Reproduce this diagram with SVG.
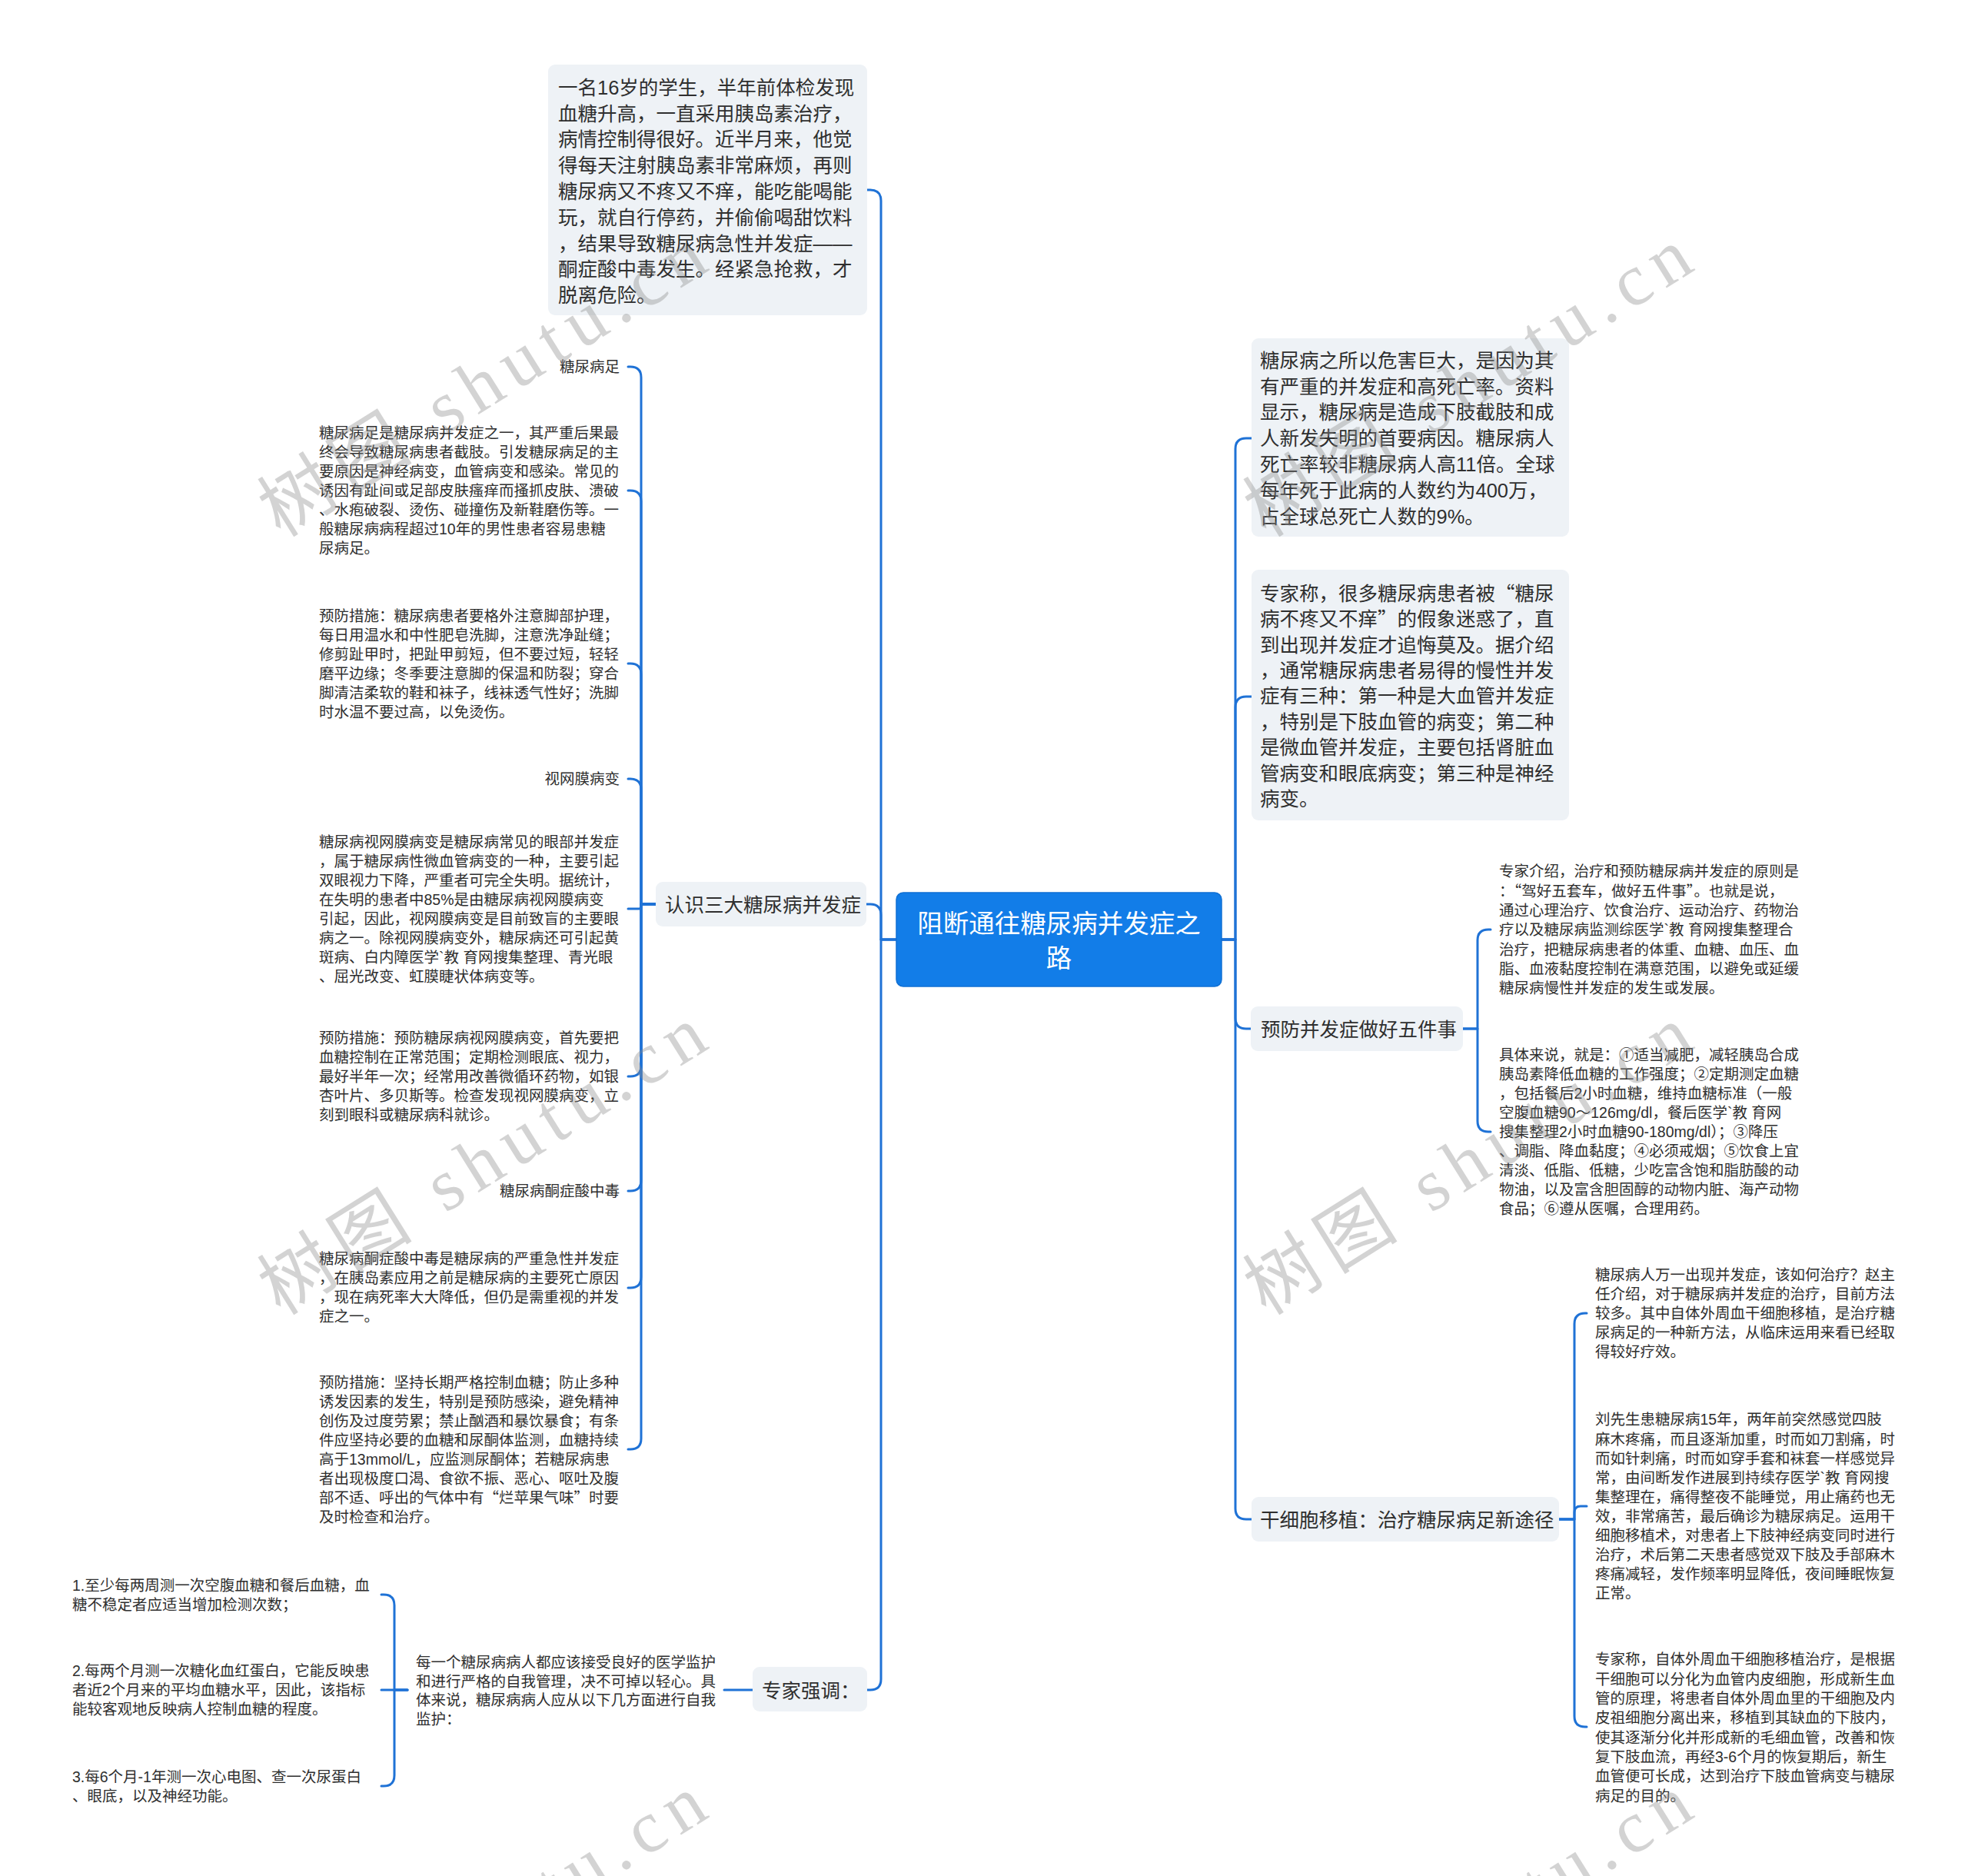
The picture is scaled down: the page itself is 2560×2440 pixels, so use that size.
<svg xmlns="http://www.w3.org/2000/svg" width="2560" height="2440" viewBox="0 0 2560 2440">
<style>
text { font-family: "Liberation Sans", "Noto Sans CJK SC", sans-serif; fill: #2f2f2f; }
.s { font-size: 19.5px; }
.m { font-size: 25.5px; }
.c { font-size: 33.5px; fill: #ffffff; }
.q { font-family: "Noto Sans CJK SC", sans-serif; }
.ln { fill: none; stroke: #1f72d6; stroke-width: 3; stroke-linecap: round; stroke-linejoin: round; }
.nb { fill: #eef2f6; }
.wm { font-family: "Liberation Serif", "Noto Sans CJK SC", serif; font-size: 96px; fill: #8c8c8c; fill-opacity: 0.38; }
</style>
<rect x="0" y="0" width="2560" height="2440" fill="#ffffff"/>

<g id="connectors">
  <path class="ln" d="M1166,1222 H1146 V261 Q1146,247 1132,247 H1128"/>
  <path class="ln" d="M1166,1222 H1146 V1190 Q1146,1176 1132,1176 H1127"/>
  <path class="ln" d="M1166,1222 H1146 V2184 Q1146,2198 1132,2198 H1128"/>
  <path class="ln" d="M1589,1222 H1607 V584 Q1607,570 1621,570 H1628"/>
  <path class="ln" d="M1589,1222 H1607 V920 Q1607,906 1621,906 H1628"/>
  <path class="ln" d="M1589,1222 H1607 V1324 Q1607,1338 1621,1338 H1627"/>
  <path class="ln" d="M1589,1222 H1607 V1962 Q1607,1976 1621,1976 H1628"/>
  <path class="ln" d="M853,1176 H834 V491 Q834,477 820,477 H817"/>
  <path class="ln" d="M853,1176 H834 V652 Q834,638 820,638 H817"/>
  <path class="ln" d="M853,1176 H834 V877 Q834,863 820,863 H817"/>
  <path class="ln" d="M853,1176 H834 V1027 Q834,1013 820,1013 H817"/>
  <path class="ln" d="M853,1176 H834 V1179 Q834,1182 831,1182 H817"/>
  <path class="ln" d="M853,1176 H834 V1386 Q834,1400 820,1400 H817"/>
  <path class="ln" d="M853,1176 H834 V1535 Q834,1549 820,1549 H817"/>
  <path class="ln" d="M853,1176 H834 V1661 Q834,1675 820,1675 H817"/>
  <path class="ln" d="M853,1176 H834 V1871 Q834,1885 820,1885 H817"/>
  <path class="ln" d="M979,2198 H942"/>
  <path class="ln" d="M530,2198 H513 V2088 Q513,2074 499,2074 H496"/>
  <path class="ln" d="M530,2198 H496"/>
  <path class="ln" d="M530,2198 H513 V2309 Q513,2323 499,2323 H496"/>
  <path class="ln" d="M1903,1338 H1922 V1223 Q1922,1209 1936,1209 H1939"/>
  <path class="ln" d="M1903,1338 H1922 V1458 Q1922,1472 1936,1472 H1939"/>
  <path class="ln" d="M2028,1976 H2048 V1722 Q2048,1708 2062,1708 H2064"/>
  <path class="ln" d="M2028,1976 H2048 V1967 Q2048,1959 2056,1959 H2064"/>
  <path class="ln" d="M2028,1976 H2048 V2232 Q2048,2246 2062,2246 H2064"/>
</g>

<g id="root">
  <rect x="1166" y="1161" width="423" height="122" rx="9" fill="#127de8" stroke="#0f6fd3" stroke-width="1.5"/>
  <text class="c" text-anchor="middle"><tspan x="1377.5" y="1213">阻断通往糖尿病并发症之</tspan><tspan x="1377.5" y="1258">路</tspan></text>
</g>

<g id="case">
  <rect class="nb" x="713" y="84" width="415" height="326" rx="9"/>
  <text class="m">
    <tspan x="726" y="122.7">一名16岁的学生，半年前体检发现</tspan>
    <tspan x="726" y="156.5">血糖升高，一直采用胰岛素治疗，</tspan>
    <tspan x="726" y="190.3">病情控制得很好。近半月来，他觉</tspan>
    <tspan x="726" y="224.1">得每天注射胰岛素非常麻烦，再则</tspan>
    <tspan x="726" y="257.9">糖尿病又不疼又不痒，能吃能喝能</tspan>
    <tspan x="726" y="291.7">玩，就自行停药，并偷偷喝甜饮料</tspan>
    <tspan x="726" y="325.5">，结果导致糖尿病急性并发症——</tspan>
    <tspan x="726" y="359.3">酮症酸中毒发生。经紧急抢救，才</tspan>
    <tspan x="726" y="393.1">脱离危险。</tspan>
  </text>
</g>

<g id="know">
  <rect class="nb" x="853" y="1147" width="274" height="58" rx="9"/>
  <text class="m" x="865" y="1186">认识三大糖尿病并发症</text>
</g>

<g id="foot-title"><text class="s" x="806" y="484.4" text-anchor="end">糖尿病足</text></g>
<g id="foot-desc">
  <text class="s">
    <tspan x="415" y="570.4">糖尿病足是糖尿病并发症之一，其严重后果最</tspan>
    <tspan x="415" y="595.4">终会导致糖尿病患者截肢。引发糖尿病足的主</tspan>
    <tspan x="415" y="620.4">要原因是神经病变，血管病变和感染。常见的</tspan>
    <tspan x="415" y="645.4">诱因有趾间或足部皮肤瘙痒而搔抓皮肤、溃破</tspan>
    <tspan x="415" y="670.4">、水疱破裂、烫伤、碰撞伤及新鞋磨伤等。一</tspan>
    <tspan x="415" y="695.4">般糖尿病病程超过10年的男性患者容易患糖</tspan>
    <tspan x="415" y="720.4">尿病足。</tspan>
  </text>
</g>
<g id="foot-prev">
  <text class="s">
    <tspan x="415" y="808.4">预防措施：糖尿病患者要格外注意脚部护理，</tspan>
    <tspan x="415" y="833.4">每日用温水和中性肥皂洗脚，注意洗净趾缝；</tspan>
    <tspan x="415" y="858.4">修剪趾甲时，把趾甲剪短，但不要过短，轻轻</tspan>
    <tspan x="415" y="883.4">磨平边缘；冬季要注意脚的保温和防裂；穿合</tspan>
    <tspan x="415" y="908.4">脚清洁柔软的鞋和袜子，线袜透气性好；洗脚</tspan>
    <tspan x="415" y="933.4">时水温不要过高，以免烫伤。</tspan>
  </text>
</g>

<g id="retina-title"><text class="s" x="806" y="1020.4" text-anchor="end">视网膜病变</text></g>
<g id="retina-desc">
  <text class="s">
    <tspan x="415" y="1102.4">糖尿病视网膜病变是糖尿病常见的眼部并发症</tspan>
    <tspan x="415" y="1127.4">，属于糖尿病性微血管病变的一种，主要引起</tspan>
    <tspan x="415" y="1152.4">双眼视力下降，严重者可完全失明。据统计，</tspan>
    <tspan x="415" y="1177.4">在失明的患者中85%是由糖尿病视网膜病变</tspan>
    <tspan x="415" y="1202.4">引起，因此，视网膜病变是目前致盲的主要眼</tspan>
    <tspan x="415" y="1227.4">病之一。除视网膜病变外，糖尿病还可引起黄</tspan>
    <tspan x="415" y="1252.4">斑病、白内障医学`教 育网搜集整理、青光眼</tspan>
    <tspan x="415" y="1277.4">、屈光改变、虹膜睫状体病变等。</tspan>
  </text>
</g>
<g id="retina-prev">
  <text class="s">
    <tspan x="415" y="1357.4">预防措施：预防糖尿病视网膜病变，首先要把</tspan>
    <tspan x="415" y="1382.4">血糖控制在正常范围；定期检测眼底、视力，</tspan>
    <tspan x="415" y="1407.4">最好半年一次；经常用改善微循环药物，如银</tspan>
    <tspan x="415" y="1432.4">杏叶片、多贝斯等。检查发现视网膜病变，立</tspan>
    <tspan x="415" y="1457.4">刻到眼科或糖尿病科就诊。</tspan>
  </text>
</g>

<g id="dka-title"><text class="s" x="806" y="1556.4" text-anchor="end">糖尿病酮症酸中毒</text></g>
<g id="dka-desc">
  <text class="s">
    <tspan x="415" y="1644.4">糖尿病酮症酸中毒是糖尿病的严重急性并发症</tspan>
    <tspan x="415" y="1669.4">，在胰岛素应用之前是糖尿病的主要死亡原因</tspan>
    <tspan x="415" y="1694.4">，现在病死率大大降低，但仍是需重视的并发</tspan>
    <tspan x="415" y="1719.4">症之一。</tspan>
  </text>
</g>
<g id="dka-prev">
  <text class="s">
    <tspan x="415" y="1805.4">预防措施：坚持长期严格控制血糖；防止多种</tspan>
    <tspan x="415" y="1830.4">诱发因素的发生，特别是预防感染，避免精神</tspan>
    <tspan x="415" y="1855.4">创伤及过度劳累；禁止酗酒和暴饮暴食；有条</tspan>
    <tspan x="415" y="1880.4">件应坚持必要的血糖和尿酮体监测，血糖持续</tspan>
    <tspan x="415" y="1905.4">高于13mmol/L，应监测尿酮体；若糖尿病患</tspan>
    <tspan x="415" y="1930.4">者出现极度口渴、食欲不振、恶心、呕吐及腹</tspan>
    <tspan x="415" y="1955.4">部不适、呼出的气体中有<tspan class="q">“</tspan>烂苹果气味<tspan class="q">”</tspan>时要</tspan>
    <tspan x="415" y="1980.4">及时检查和治疗。</tspan>
  </text>
</g>

<g id="expert">
  <rect class="nb" x="979" y="2168" width="149" height="58" rx="9"/>
  <text class="m" x="991" y="2208">专家强调：</text>
</g>
<g id="expert-desc">
  <text class="s">
    <tspan x="541" y="2169.4">每一个糖尿病病人都应该接受良好的医学监护</tspan>
    <tspan x="541" y="2193.9">和进行严格的自我管理，决不可掉以轻心。具</tspan>
    <tspan x="541" y="2218.4">体来说，糖尿病病人应从以下几方面进行自我</tspan>
    <tspan x="541" y="2242.9">监护：</tspan>
  </text>
</g>
<g id="monitor-1">
  <text class="s">
    <tspan x="94" y="2069.4">1.至少每两周测一次空腹血糖和餐后血糖，血</tspan>
    <tspan x="94" y="2093.9">糖不稳定者应适当增加检测次数；</tspan>
  </text>
</g>
<g id="monitor-2">
  <text class="s">
    <tspan x="94" y="2180.4">2.每两个月测一次糖化血红蛋白，它能反映患</tspan>
    <tspan x="94" y="2205.4">者近2个月来的平均血糖水平，因此，该指标</tspan>
    <tspan x="94" y="2230.4">能较客观地反映病人控制血糖的程度。</tspan>
  </text>
</g>
<g id="monitor-3">
  <text class="s">
    <tspan x="94" y="2318.4">3.每6个月-1年测一次心电图、查一次尿蛋白</tspan>
    <tspan x="94" y="2342.9">、眼底，以及神经功能。</tspan>
  </text>
</g>

<g id="harm">
  <rect class="nb" x="1628" y="440" width="413" height="258" rx="9"/>
  <text class="m">
    <tspan x="1639" y="477.7">糖尿病之所以危害巨大，是因为其</tspan>
    <tspan x="1639" y="511.5">有严重的并发症和高死亡率。资料</tspan>
    <tspan x="1639" y="545.3">显示，糖尿病是造成下肢截肢和成</tspan>
    <tspan x="1639" y="579.1">人新发失明的首要病因。糖尿病人</tspan>
    <tspan x="1639" y="612.9">死亡率较非糖尿病人高11倍。全球</tspan>
    <tspan x="1639" y="646.7">每年死于此病的人数约为400万，</tspan>
    <tspan x="1639" y="680.5">占全球总死亡人数的9%。</tspan>
  </text>
</g>

<g id="three-types">
  <rect class="nb" x="1628" y="741" width="413" height="326" rx="9"/>
  <text class="m">
    <tspan x="1639" y="780.7">专家称，很多糖尿病患者被<tspan class="q">“</tspan>糖尿</tspan>
    <tspan x="1639" y="814.1">病不疼又不痒<tspan class="q">”</tspan>的假象迷惑了，直</tspan>
    <tspan x="1639" y="847.5">到出现并发症才追悔莫及。据介绍</tspan>
    <tspan x="1639" y="880.9">，通常糖尿病患者易得的慢性并发</tspan>
    <tspan x="1639" y="914.3">症有三种：第一种是大血管并发症</tspan>
    <tspan x="1639" y="947.7">，特别是下肢血管的病变；第二种</tspan>
    <tspan x="1639" y="981.1">是微血管并发症，主要包括肾脏血</tspan>
    <tspan x="1639" y="1014.5">管病变和眼底病变；第三种是神经</tspan>
    <tspan x="1639" y="1047.9">病变。</tspan>
  </text>
</g>

<g id="five">
  <rect class="nb" x="1627" y="1309" width="276" height="58" rx="9"/>
  <text class="m" x="1640" y="1348">预防并发症做好五件事</text>
</g>
<g id="five-principle">
  <text class="s">
    <tspan x="1950" y="1140.4">专家介绍，治疗和预防糖尿病并发症的原则是</tspan>
    <tspan x="1950" y="1165.7">：<tspan class="q">“</tspan>驾好五套车，做好五件事<tspan class="q">”</tspan>。也就是说，</tspan>
    <tspan x="1950" y="1191.0">通过心理治疗、饮食治疗、运动治疗、药物治</tspan>
    <tspan x="1950" y="1216.3">疗以及糖尿病监测综医学`教 育网搜集整理合</tspan>
    <tspan x="1950" y="1241.6">治疗，把糖尿病患者的体重、血糖、血压、血</tspan>
    <tspan x="1950" y="1266.9">脂、血液黏度控制在满意范围，以避免或延缓</tspan>
    <tspan x="1950" y="1292.2">糖尿病慢性并发症的发生或发展。</tspan>
  </text>
</g>
<g id="five-detail">
  <text class="s">
    <tspan x="1950" y="1379.4">具体来说，就是：①适当减肥，减轻胰岛合成</tspan>
    <tspan x="1950" y="1404.4">胰岛素降低血糖的工作强度；②定期测定血糖</tspan>
    <tspan x="1950" y="1429.4">，包括餐后2小时血糖，维持血糖标准（一般</tspan>
    <tspan x="1950" y="1454.4">空腹血糖90～126mg/dl，餐后医学`教 育网</tspan>
    <tspan x="1950" y="1479.4">搜集整理2小时血糖90-180mg/dl）；③降压</tspan>
    <tspan x="1950" y="1504.4">、调脂、降血黏度；④必须戒烟；⑤饮食上宜</tspan>
    <tspan x="1950" y="1529.4">清淡、低脂、低糖，少吃富含饱和脂肪酸的动</tspan>
    <tspan x="1950" y="1554.4">物油，以及富含胆固醇的动物内脏、海产动物</tspan>
    <tspan x="1950" y="1579.4">食品；⑥遵从医嘱，合理用药。</tspan>
  </text>
</g>

<g id="stemcell">
  <rect class="nb" x="1628" y="1947" width="400" height="58" rx="9"/>
  <text class="m" x="1639" y="1986">干细胞移植：治疗糖尿病足新途径</text>
</g>
<g id="stemcell-1">
  <text class="s">
    <tspan x="2075" y="1665.4">糖尿病人万一出现并发症，该如何治疗？赵主</tspan>
    <tspan x="2075" y="1690.4">任介绍，对于糖尿病并发症的治疗，目前方法</tspan>
    <tspan x="2075" y="1715.4">较多。其中自体外周血干细胞移植，是治疗糖</tspan>
    <tspan x="2075" y="1740.4">尿病足的一种新方法，从临床运用来看已经取</tspan>
    <tspan x="2075" y="1765.4">得较好疗效。</tspan>
  </text>
</g>
<g id="stemcell-2">
  <text class="s">
    <tspan x="2075" y="1853.4">刘先生患糖尿病15年，两年前突然感觉四肢</tspan>
    <tspan x="2075" y="1878.5">麻木疼痛，而且逐渐加重，时而如刀割痛，时</tspan>
    <tspan x="2075" y="1903.6">而如针刺痛，时而如穿手套和袜套一样感觉异</tspan>
    <tspan x="2075" y="1928.7">常，由间断发作进展到持续存医学`教 育网搜</tspan>
    <tspan x="2075" y="1953.8">集整理在，痛得整夜不能睡觉，用止痛药也无</tspan>
    <tspan x="2075" y="1978.9">效，非常痛苦，最后确诊为糖尿病足。运用干</tspan>
    <tspan x="2075" y="2004.0">细胞移植术，对患者上下肢神经病变同时进行</tspan>
    <tspan x="2075" y="2029.1">治疗，术后第二天患者感觉双下肢及手部麻木</tspan>
    <tspan x="2075" y="2054.2">疼痛减轻，发作频率明显降低，夜间睡眠恢复</tspan>
    <tspan x="2075" y="2079.3">正常。</tspan>
  </text>
</g>
<g id="stemcell-3">
  <text class="s">
    <tspan x="2075" y="2165.4">专家称，自体外周血干细胞移植治疗，是根据</tspan>
    <tspan x="2075" y="2190.7">干细胞可以分化为血管内皮细胞，形成新生血</tspan>
    <tspan x="2075" y="2216.0">管的原理，将患者自体外周血里的干细胞及内</tspan>
    <tspan x="2075" y="2241.3">皮祖细胞分离出来，移植到其缺血的下肢内，</tspan>
    <tspan x="2075" y="2266.6">使其逐渐分化并形成新的毛细血管，改善和恢</tspan>
    <tspan x="2075" y="2291.9">复下肢血流，再经3-6个月的恢复期后，新生</tspan>
    <tspan x="2075" y="2317.2">血管便可长成，达到治疗下肢血管病变与糖尿</tspan>
    <tspan x="2075" y="2342.5">病足的目的。</tspan>
  </text>
</g>

<g id="watermarks">
  <text class="wm" transform="translate(365,700) rotate(-32)" textLength="660" lengthAdjust="spacing">树图 shutu.cn</text>
  <text class="wm" transform="translate(1647,700) rotate(-32)" textLength="660" lengthAdjust="spacing">树图 shutu.cn</text>
  <text class="wm" transform="translate(365,1712) rotate(-32)" textLength="660" lengthAdjust="spacing">树图 shutu.cn</text>
  <text class="wm" transform="translate(1647,1712) rotate(-32)" textLength="660" lengthAdjust="spacing">树图 shutu.cn</text>
  <text class="wm" transform="translate(365,2712) rotate(-32)" textLength="660" lengthAdjust="spacing">树图 shutu.cn</text>
  <text class="wm" transform="translate(1647,2712) rotate(-32)" textLength="660" lengthAdjust="spacing">树图 shutu.cn</text>
</g>
</svg>
